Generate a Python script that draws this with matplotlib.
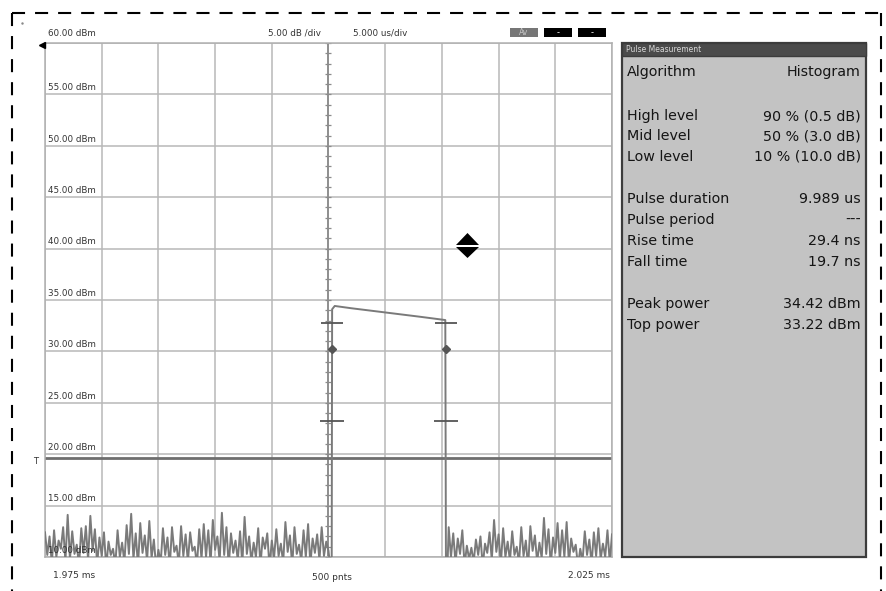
import matplotlib
matplotlib.use("Agg")
import numpy as np
import matplotlib.pyplot as plt
import matplotlib.transforms as mtrans
from matplotlib.patches import Rectangle, Polygon
from matplotlib.lines import Line2D

plt.rcParams["lines.scale_dashes"] = False

# ---------------- data ----------------
x_start_label = "1.975 ms"
x_end_label = "2.025 ms"
points_label = "500 pnts"
time_span_us = 50.0          # 10 div x 5 us/div
sample_step_us = 0.2
y_levels = [10, 15, 20, 25, 30, 35, 40, 45, 50, 55, 60]
trigger_level = 19.6

pre_noise = [
    12.4, 10.2, 12.0, 9.4, 12.6, 10.0, 11.6, 10.8, 12.9, 9.6,
    14.1, 9.8, 12.5, 10.3, 11.2, 9.1, 12.8, 10.4, 13.0, 9.7,
    14.0, 10.6, 12.7, 9.3, 11.9, 10.1, 12.4, 9.0, 11.5, 10.2,
    10.8, 9.2, 12.6, 10.0, 11.4, 9.5, 13.1, 10.3, 14.2, 9.8,
    12.3, 9.1, 13.3, 10.4, 12.1, 9.6, 13.5, 9.9, 11.7, 9.0,
    10.7, 9.4, 12.8, 10.2, 11.9, 9.0, 12.9, 10.5, 11.1, 9.3,
    13.0, 10.1, 12.2, 9.5, 12.4, 10.6, 11.0, 9.2, 12.7, 9.8,
    13.2, 10.0, 12.6, 9.4, 13.6, 10.7, 12.0, 9.6, 14.3, 10.2,
    12.9, 9.1, 12.3, 10.4, 11.6, 9.7, 12.5, 9.3, 13.9, 10.3,
    12.0, 9.5, 11.4, 10.0, 12.8, 9.2, 11.9, 10.8, 12.3, 9.0,
    11.6, 9.9, 12.7, 10.1, 11.3, 9.4, 13.4, 10.5, 12.1, 9.1,
    12.9, 10.3, 11.2, 9.6, 12.6, 10.0, 13.2, 9.3, 11.8, 10.4,
    12.2, 9.7, 12.9, 10.1, 11.5, 10.6,
]
post_noise = [
    12.9, 10.0, 12.3, 9.4, 11.8, 10.3, 12.6, 9.2, 11.1, 9.8,
    10.9, 9.5, 11.7, 10.2, 12.0, 9.1, 11.3, 10.4, 12.4, 9.7,
    13.6, 10.5, 12.2, 9.3, 12.8, 10.0, 11.5, 9.6, 12.5, 10.2,
    11.0, 9.4, 12.9, 10.1, 11.6, 9.0, 13.0, 10.6, 12.1, 9.5,
    11.4, 9.9, 13.8, 10.3, 12.7, 9.2, 11.9, 10.4, 13.3, 9.7,
    12.6, 10.0, 13.4, 9.4, 11.8, 10.5, 11.2, 9.1, 10.8, 9.6,
    12.5, 10.2, 11.7, 9.3, 12.4, 10.1, 12.8, 9.8, 11.3, 10.0,
    12.6, 9.5, 12.2,
]
post_start_us = 35.6

rise_t = 25.28
fall_t = 35.36
floor_level = 8.0
pulse_top_t = [25.32, 25.55, 27.0, 29.0, 31.0, 33.0, 35.3]
pulse_top_v = [34.10, 34.42, 34.20, 33.93, 33.66, 33.38, 33.05]

top_power = 33.22
high_db, mid_db, low_db = 0.5, 3.0, 10.0

meas_labels = ["Algorithm", "High level", "Mid level", "Low level",
               "Pulse duration", "Pulse period", "Rise time", "Fall time",
               "Peak power", "Top power"]
meas_values = ["Histogram", "90 % (0.5 dB)", "50 % (3.0 dB)", "10 % (10.0 dB)",
               "9.989 us", "---", "29.4 ns", "19.7 ns",
               "34.42 dBm", "33.22 dBm"]

# ---------------- layout ----------------
W, H = 887, 591
fig = plt.figure(figsize=(W / 100, H / 100), dpi=100)
fig.patch.set_facecolor("white")


def fx(x):
    return x / W


def fy(y):
    return 1 - y / H


ax = fig.add_axes([fx(45), fy(557), 567 / W, 514 / H])
ax.set_xlim(0, time_span_us)
ax.set_ylim(y_levels[0], y_levels[-1])
ax.set_xticks(np.arange(0, time_span_us + 0.1, 5))
ax.set_yticks(y_levels)
ax.grid(True, color="#b8b8b8", lw=1.1)
ax.set_axisbelow(True)
ax.tick_params(length=0, labelbottom=False, labelleft=False)
for s in ax.spines.values():
    s.set_color("#b0b0b0")
    s.set_linewidth(1.1)

# center graticule line with minor ticks
ax.axvline(time_span_us / 2, color="#8c8c8c", lw=1.3, zorder=2)
minor_y = np.arange(y_levels[0], y_levels[-1] + 0.1, 1.0)
ax.plot(np.full(len(minor_y), time_span_us / 2), minor_y, ls="none",
        marker="_", ms=4, mew=0.9, color="#8c8c8c", zorder=2)

# trigger line
ax.axhline(trigger_level, color="#6e6e6e", lw=2.0, zorder=2)

# trace
pre_t = np.arange(len(pre_noise)) * sample_step_us
post_t = post_start_us + np.arange(len(post_noise)) * sample_step_us
trace_t = np.concatenate([pre_t, [rise_t - 0.02, rise_t], pulse_top_t,
                          [fall_t, fall_t + 0.1], post_t])
trace_v = np.concatenate([pre_noise, [floor_level, floor_level], pulse_top_v,
                          [floor_level, floor_level], post_noise])
ax.plot(trace_t, trace_v, color="#7a7a7a", lw=1.4, zorder=3)

# measurement markers
mk_col = "#555555"
for t in (rise_t, fall_t):
    ax.plot([t], [top_power - high_db], marker="_", ms=16, mew=1.3, color=mk_col, zorder=4)
    ax.plot([t], [top_power - low_db], marker="_", ms=17, mew=1.3, color=mk_col, zorder=4)
    ax.plot([t], [top_power - mid_db], marker="D", ms=4.5, color=mk_col, zorder=4)

# y labels
blend = mtrans.blended_transform_factory(ax.transAxes, ax.transData)
for v in y_levels:
    off = 5 if v == y_levels[-1] else 3
    ax.annotate(f"{v:.2f} dBm", xy=(0, v), xycoords=blend, xytext=(2.5, off),
                textcoords="offset points", fontsize=6.3, color="#333333",
                va="baseline", ha="left", zorder=5, annotation_clip=False)

# ---------------- header / footer texts ----------------
fig.text(fx(294), fy(33), "5.00 dB /div", fontsize=6.3, color="#333333", ha="center", va="center")
fig.text(fx(380), fy(33), "5.000 us/div", fontsize=6.3, color="#333333", ha="center", va="center")
fig.text(fx(53), fy(576), x_start_label, fontsize=6.5, color="#333333", ha="left", va="center")
fig.text(fx(332), fy(577), points_label, fontsize=6.5, color="#333333", ha="center", va="center")
fig.text(fx(610), fy(576), x_end_label, fontsize=6.5, color="#333333", ha="right", va="center")
fig.text(fx(36), fy(462), "T", fontsize=6, color="#333333", ha="center", va="center")

# reference level arrow
fig.add_artist(Line2D([fx(42)], [fy(45)], marker="<", ms=5, color="black",
                      transform=fig.transFigure))
fig.add_artist(Line2D([fx(22)], [fy(23)], marker=".", ms=1.5, color="#888888",
                      transform=fig.transFigure))

# status boxes
def frect(x0, y0, x1, y1, **kw):
    return Rectangle((fx(x0), fy(y1)), (x1 - x0) / W, (y1 - y0) / H,
                     transform=fig.transFigure, **kw)


fig.add_artist(frect(510, 28, 538, 37, facecolor="#767676", edgecolor="none"))
fig.text(fx(524), fy(32.5), "Av", fontsize=5.5, color="#c8c8c8", ha="center", va="center")
for x0 in (544, 578):
    fig.add_artist(frect(x0, 28, x0 + 28, 37, facecolor="black", edgecolor="none"))
    fig.text(fx(x0 + 14), fy(32.5), "-", fontsize=6, color="white", ha="center", va="center")

# up/down arrow icon
fig.add_artist(Polygon([(fx(456), fy(245)), (fx(479), fy(245)), (fx(467.5), fy(233))],
                       closed=True, facecolor="black", edgecolor="none",
                       transform=fig.transFigure))
fig.add_artist(Polygon([(fx(456), fy(247)), (fx(479), fy(247)), (fx(467.5), fy(258))],
                       closed=True, facecolor="black", edgecolor="none",
                       transform=fig.transFigure))

# ---------------- measurement panel ----------------
fig.add_artist(frect(622, 43, 866, 557, facecolor="#c3c3c3", edgecolor="#3c3c3c", lw=1.6))
fig.add_artist(frect(622, 43, 866, 56, facecolor="#4b4b4b", edgecolor="#3c3c3c", lw=1.0))
fig.text(fx(626), fy(50), "Pulse Measurement", fontsize=5.5, color="#d8d8d8",
         ha="left", va="center")
row_y = [72, 116, 136, 157, 199, 220, 241, 262, 304, 325]
pfont = dict(fontsize=10.3, color="#151515", va="center", family="DejaVu Sans")
for lab, val, y in zip(meas_labels, meas_values, row_y):
    fig.text(fx(627), fy(y), lab, ha="left", **pfont)
    fig.text(fx(861), fy(y), val, ha="right", **pfont)

# ---------------- dashed outer border ----------------
dash = (0, (9.4, 7.2))
for xs, ys in [((12, 881), (13, 13)), ((12, 12), (13, 600)), ((881, 881), (13, 600))]:
    fig.add_artist(Line2D([fx(xs[0]), fx(xs[1])], [fy(ys[0]), fy(ys[1])],
                          color="black", lw=1.5, linestyle=dash,
                          transform=fig.transFigure))

fig.savefig("out.png", dpi=100)
